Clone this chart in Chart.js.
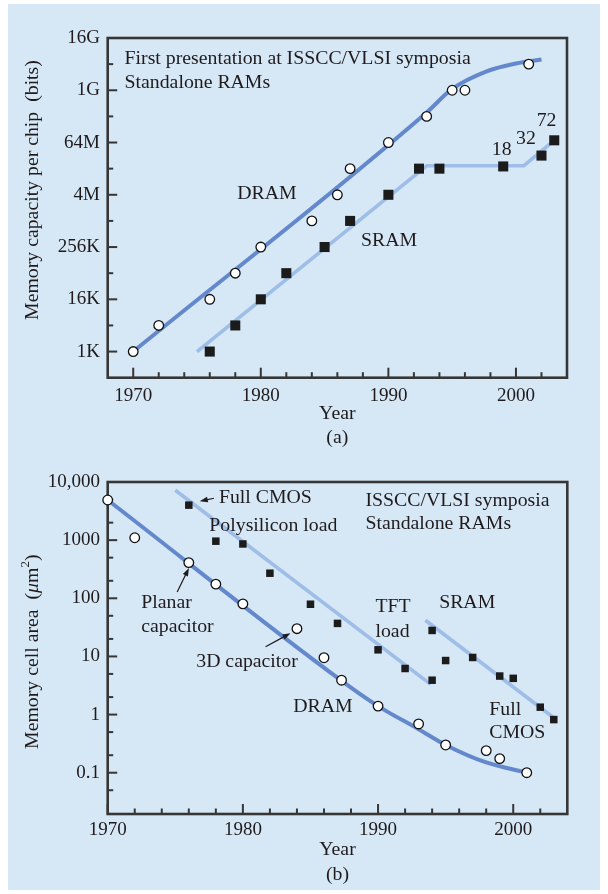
<!DOCTYPE html>
<html>
<head>
<meta charset="utf-8">
<script src="https://cdn.jsdelivr.net/npm/chart.js@4.4.1/dist/chart.umd.min.js"></script>
<style>
  html, body { margin: 0; padding: 0; background: #ffffff; }
  #panel { position: absolute; left: 8px; top: 4px; width: 592px; height: 886px; background: #d6e7f5; }
  canvas { position: absolute; left: 0; }
  #capacity { top: 0; }
  #area { top: 447px; }
</style>
</head>
<body>
<div id="panel"></div>
<canvas id="capacity" width="608" height="447"></canvas>
<canvas id="area" width="608" height="447"></canvas>
<script>
const K = 1024, M = 1024 * K, G = 1024 * M;

// ---- (a) memory capacity per chip, bits ----
const dramCapYears = [1970, 1972, 1976, 1978, 1980, 1984, 1986, 1987, 1990, 1993, 1995, 1996, 2001];
const dramCapBits  = [1*K, 4*K, 16*K, 64*K, 256*K, 1*M, 4*M, 16*M, 64*M, 256*M, 1*G, 1*G, 4*G];
const sramCapYears = [1976, 1978, 1980, 1982, 1985, 1987, 1990, 1992.4, 1994, 1999, 2002, 2003];
const sramCapBits  = [1*K, 4*K, 16*K, 64*K, 256*K, 1*M, 4*M, 16*M, 16*M, 18*M, 32*M, 72*M];
const dramCapTrendYears = [1970, 1993, 1995, 1997.7, 2000, 2002];
const dramCapTrendBits  = [1*K, 315*M, 1.07*G, 2.73*G, 4.14*G, 5.1*G];
const sramCapTrendYears = [1975, 1993, 2000.6, 2003];
const sramCapTrendBits  = [1*K, 18.6*M, 18.6*M, 72*M];
const capTickBits   = [1*K, 16*K, 256*K, 4*M, 64*M, 1*G, 16*G];
const capTickLabels = ['1K', '16K', '256K', '4M', '64M', '1G', '16G'];
const capMinorBits  = [4*K, 64*K, 1*M, 16*M, 256*M, 4*G];

// ---- (b) memory cell area, square micrometres ----
const dramAreaYears = [1970, 1972, 1976, 1978, 1980, 1984, 1986, 1987.3, 1990, 1993, 1995, 1998, 1999, 2001];
const dramAreaUm2   = [4900, 1100, 410, 175, 80, 30, 9.5, 3.9, 1.4, 0.69, 0.3, 0.24, 0.175, 0.1];
const sramAreaYears = [1976, 1978, 1980, 1982, 1985, 1987, 1990, 1992, 1994, 1994, 1995, 1997, 1999, 2000, 2002, 2003];
const sramAreaUm2   = [4000, 960, 860, 270, 79, 37, 13, 6.2, 3.9, 28, 8.5, 9.6, 4.6, 4.2, 1.34, 0.82];
const dramAreaTrendYears = [1970, 1988, 1990, 1993, 1995, 1998, 2001];
const dramAreaTrendUm2   = [4900, 2.9, 1.4, 0.56, 0.3, 0.15, 0.1];
const loadSramTrendYears = [1975, 1993.9];
const loadSramTrendUm2   = [7200, 3.3];
const cmosSramTrendYears = [1993.5, 2003];
const cmosSramTrendUm2   = [42, 0.88];
const areaTickValues = [0.1, 1, 10, 100, 1000, 10000];
const areaTickLabels = ['0.1', '1', '10', '100', '1000', '10,000'];
const areaMinorValues = [0.05, 0.2, 0.5, 2, 5, 20, 50, 200, 500, 2000, 5000];

// ---- shared year axis ----
const yearTicks = [1970, 1980, 1990, 2000];
const yearMinorTicks = [1972, 1974, 1976, 1978, 1982, 1984, 1986, 1988, 1992, 1994, 1996, 1998, 2002];

const SERIF = '"Liberation Serif", "Times New Roman", serif';
const INK = '#1f1b1c';
const FRAME = '#363636';
const DRAM_BLUE = '#6388cc';
const SRAM_BLUE = '#9ebde7';
const TEXT_SIZE = 19.8;
const TICK_SIZE = 19;

const pts = (xs, ys) => xs.map((x, i) => ({ x, y: ys[i] }));

// Box frame plus inward tick marks on the left and bottom axes
const frameAndTicks = {
  id: 'frameAndTicks',
  beforeDatasetsDraw(chart, args, o) {
    const { ctx, chartArea: a, scales: { x, y } } = chart;
    ctx.save();
    ctx.strokeStyle = FRAME;
    ctx.lineWidth = 2;
    const mark = (vals, len, vertical) => vals.forEach(v => {
      ctx.beginPath();
      if (vertical) {
        const py = y.getPixelForValue(v);
        ctx.moveTo(a.left, py); ctx.lineTo(a.left + len, py);
      } else {
        const px = x.getPixelForValue(v);
        ctx.moveTo(px, a.bottom); ctx.lineTo(px, a.bottom - len);
      }
      ctx.stroke();
    });
    mark(o.yMajor, 9.5, true);
    mark(o.yMinor, 5.5, true);
    mark(o.xMajor, 10, false);
    mark(o.xMinor, 5.5, false);
    ctx.lineWidth = 2.6;
    ctx.strokeRect(a.left, a.top, a.right - a.left, a.bottom - a.top);
    ctx.restore();
  }
};

// Text labels and pointer arrows placed in data coordinates
const notes = {
  id: 'notes',
  afterDatasetsDraw(chart, args, o) {
    const { ctx, scales: { x, y } } = chart;
    ctx.save();
    ctx.fillStyle = INK;
    ctx.strokeStyle = INK;
    ctx.font = `${TEXT_SIZE}px ${SERIF}`;
    ctx.textBaseline = 'middle';
    (o.texts || []).forEach(t => {
      ctx.textAlign = t.align || 'left';
      ctx.fillText(t.text, x.getPixelForValue(t.x), y.getPixelForValue(t.y));
    });
    (o.arrows || []).forEach(ar => {
      const x0 = x.getPixelForValue(ar.from[0]), y0 = y.getPixelForValue(ar.from[1]);
      const x1 = x.getPixelForValue(ar.to[0]), y1 = y.getPixelForValue(ar.to[1]);
      const ang = Math.atan2(y1 - y0, x1 - x0);
      const c = Math.cos(ang), s = Math.sin(ang);
      const hl = 8, hw = 2.8;
      ctx.lineWidth = 1.2;
      ctx.beginPath();
      ctx.moveTo(x0, y0);
      ctx.lineTo(x1 - hl * 0.7 * c, y1 - hl * 0.7 * s);
      ctx.stroke();
      ctx.beginPath();
      ctx.moveTo(x1, y1);
      ctx.lineTo(x1 - hl * c + hw * s, y1 - hl * s - hw * c);
      ctx.lineTo(x1 - hl * c - hw * s, y1 - hl * s + hw * c);
      ctx.closePath();
      ctx.fill();
    });
    ctx.restore();
  }
};

// Rotated y-axis title built from styled runs (italic mu, superscript 2)
const sideTitle = {
  id: 'sideTitle',
  afterDraw(chart, args, o) {
    const { ctx } = chart;
    ctx.save();
    ctx.translate(o.cx, o.cy);
    ctx.rotate(-Math.PI / 2);
    ctx.fillStyle = INK;
    ctx.textBaseline = 'middle';
    ctx.textAlign = 'left';
    const runs = o.runs.map(r => Object.assign({}, r, {
      font: `${r.italic ? 'italic ' : ''}${r.size || TEXT_SIZE}px ${SERIF}`
    }));
    let total = 0;
    runs.forEach(r => { ctx.font = r.font; r.w = ctx.measureText(r.text).width; total += r.w; });
    let cx = -total / 2;
    runs.forEach(r => { ctx.font = r.font; ctx.fillText(r.text, cx, -(r.rise || 0)); cx += r.w; });
    ctx.restore();
  }
};

function markerSet(label, data, style, radius) {
  const circle = style === 'circle';
  return {
    label, data, showLine: false, clip: false, order: 0,
    pointStyle: style, pointRadius: radius, pointHoverRadius: radius,
    pointBackgroundColor: circle ? '#ffffff' : '#1b1b1b',
    pointBorderColor: circle ? '#111111' : '#1b1b1b',
    borderColor: circle ? '#111111' : '#1b1b1b',
    pointBorderWidth: circle ? 1.3 : 0
  };
}

function trendSet(label, data, color, width, smooth) {
  return {
    label, data, showLine: true, clip: false, order: 1,
    pointRadius: 0, borderColor: color, borderWidth: width,
    borderCapStyle: 'butt', borderJoinStyle: 'round',
    cubicInterpolationMode: smooth ? 'monotone' : 'default', tension: 0
  };
}

function makeChart(id, cfg) {
  return new Chart(document.getElementById(id), {
    type: 'scatter',
    data: { datasets: cfg.datasets },
    options: {
      responsive: false, animation: false, devicePixelRatio: 1, events: [],
      layout: { padding: cfg.padding },
      plugins: {
        legend: { display: false }, tooltip: { enabled: false },
        frameAndTicks: cfg.ticks, notes: cfg.notes, sideTitle: cfg.sideTitle
      },
      scales: {
        x: {
          type: 'linear', min: cfg.xMin, max: cfg.xMax, bounds: 'data',
          afterBuildTicks: s => { s.ticks = yearTicks.map(v => ({ value: v })); },
          afterFit: s => { s.height = cfg.xHeight; },
          grid: { display: false, drawTicks: false }, border: { display: false },
          ticks: { color: INK, font: { family: SERIF, size: TICK_SIZE }, padding: cfg.xTickPad,
                   maxRotation: 0, autoSkip: false, callback: v => String(v) },
          title: { display: true, text: ['Year', cfg.tag], color: INK,
                   font: { family: SERIF, size: TEXT_SIZE, lineHeight: cfg.titleLine },
                   padding: { top: 0, bottom: cfg.titlePad } }
        },
        y: {
          type: 'logarithmic', min: cfg.yMin, max: cfg.yMax, bounds: 'data',
          afterBuildTicks: s => { s.ticks = cfg.yTicks.map(v => ({ value: v })); },
          afterFit: s => { s.width = 107.7; },
          grid: { display: false, drawTicks: false }, border: { display: false },
          ticks: { color: INK, font: { family: SERIF, size: TICK_SIZE }, padding: 7.7,
                   autoSkip: false, callback: (v, i) => cfg.yLabels[i] }
        }
      }
    },
    plugins: [frameAndTicks, notes, sideTitle]
  });
}

makeChart('capacity', {
  datasets: [
    markerSet('DRAM', pts(dramCapYears, dramCapBits), 'circle', 4.8),
    markerSet('SRAM', pts(sramCapYears, sramCapBits), 'rect', 7.1),
    trendSet('DRAM trend', pts(dramCapTrendYears, dramCapTrendBits), DRAM_BLUE, 4, true),
    trendSet('SRAM trend', pts(sramCapTrendYears, sramCapTrendBits), SRAM_BLUE, 3.6, false)
  ],
  padding: { left: 0, right: 41, top: 38, bottom: 0 },
  xMin: 1968, xMax: 2004, xHeight: 69.3, xTickPad: 6.5, tag: '(a)', titleLine: 1.18, titlePad: -2,
  yMin: 2 ** 8, yMax: 16 * G, yTicks: capTickBits, yLabels: capTickLabels,
  ticks: { xMajor: yearTicks, xMinor: yearMinorTicks, yMajor: capTickBits, yMinor: capMinorBits },
  notes: {
    texts: [
      { text: 'First presentation at ISSCC/VLSI symposia', x: 1969.32, y: 2 ** 32.38 },
      { text: 'Standalone RAMs', x: 1969.32, y: 2 ** 30.58 },
      { text: 'DRAM', x: 1978.16, y: 2 ** 22.08 },
      { text: 'SRAM', x: 1987.85, y: 2 ** 18.45 },
      { text: '18', x: 1998.88, y: 2 ** 25.48, align: 'center' },
      { text: '32', x: 2000.78, y: 2 ** 26.25, align: 'center' },
      { text: '72', x: 2002.40, y: 2 ** 27.65, align: 'center' }
    ]
  },
  sideTitle: { cx: 33, cy: 190, runs: [{ text: 'Memory capacity per chip  (bits)' }] }
});

makeChart('area', {
  datasets: [
    markerSet('DRAM', pts(dramAreaYears, dramAreaUm2), 'circle', 4.8),
    markerSet('SRAM', pts(sramAreaYears, sramAreaUm2), 'rect', 5.3),
    trendSet('DRAM trend', pts(dramAreaTrendYears, dramAreaTrendUm2), DRAM_BLUE, 4, true),
    trendSet('Polysilicon / TFT load SRAM', pts(loadSramTrendYears, loadSramTrendUm2), SRAM_BLUE, 3.6, false),
    trendSet('Full CMOS SRAM', pts(cmosSramTrendYears, cmosSramTrendUm2), SRAM_BLUE, 3.6, false)
  ],
  padding: { left: 0, right: 40.7, top: 35, bottom: 0 },
  xMin: 1970, xMax: 2004, xHeight: 80, xTickPad: 5, tag: '(b)', titleLine: 1.23, titlePad: 7.5,
  yMin: 0.0195, yMax: 10000, yTicks: areaTickValues, yLabels: areaTickLabels,
  ticks: { xMajor: yearTicks, xMinor: yearMinorTicks, yMajor: areaTickValues, yMinor: areaMinorValues },
  notes: {
    texts: [
      { text: 'Full CMOS', x: 1978.23, y: 10 ** 3.72 },
      { text: 'Polysilicon load', x: 1977.52, y: 10 ** 3.25 },
      { text: 'ISSCC/VLSI symposia', x: 1989.07, y: 10 ** 3.68 },
      { text: 'Standalone RAMs', x: 1989.07, y: 10 ** 3.28 },
      { text: 'Planar', x: 1972.48, y: 10 ** 1.92 },
      { text: 'capacitor', x: 1972.48, y: 10 ** 1.51 },
      { text: '3D capacitor', x: 1976.55, y: 10 ** 0.91 },
      { text: 'DRAM', x: 1983.72, y: 10 ** 0.134 },
      { text: 'TFT', x: 1989.81, y: 10 ** 1.845 },
      { text: 'load', x: 1989.81, y: 10 ** 1.424 },
      { text: 'SRAM', x: 1994.52, y: 10 ** 1.93 },
      { text: 'Full', x: 1998.23, y: 10 ** 0.079 },
      { text: 'CMOS', x: 1998.23, y: 10 ** -0.322 }
    ],
    arrows: [
      { from: [1977.86, 10 ** 3.72], to: [1976.81, 10 ** 3.67] },
      { from: [1975.14, 10 ** 2.11], to: [1976.01, 10 ** 2.52] },
      { from: [1981.68, 10 ** 1.166], to: [1983.52, 10 ** 1.40] }
    ]
  },
  sideTitle: { cx: 33, cy: 204.7, runs: [
    { text: 'Memory cell area  (' },
    { text: 'μ', italic: true },
    { text: 'm' },
    { text: '2', size: 13, rise: 7 },
    { text: ')' }
  ] }
});
</script>
</body>
</html>
